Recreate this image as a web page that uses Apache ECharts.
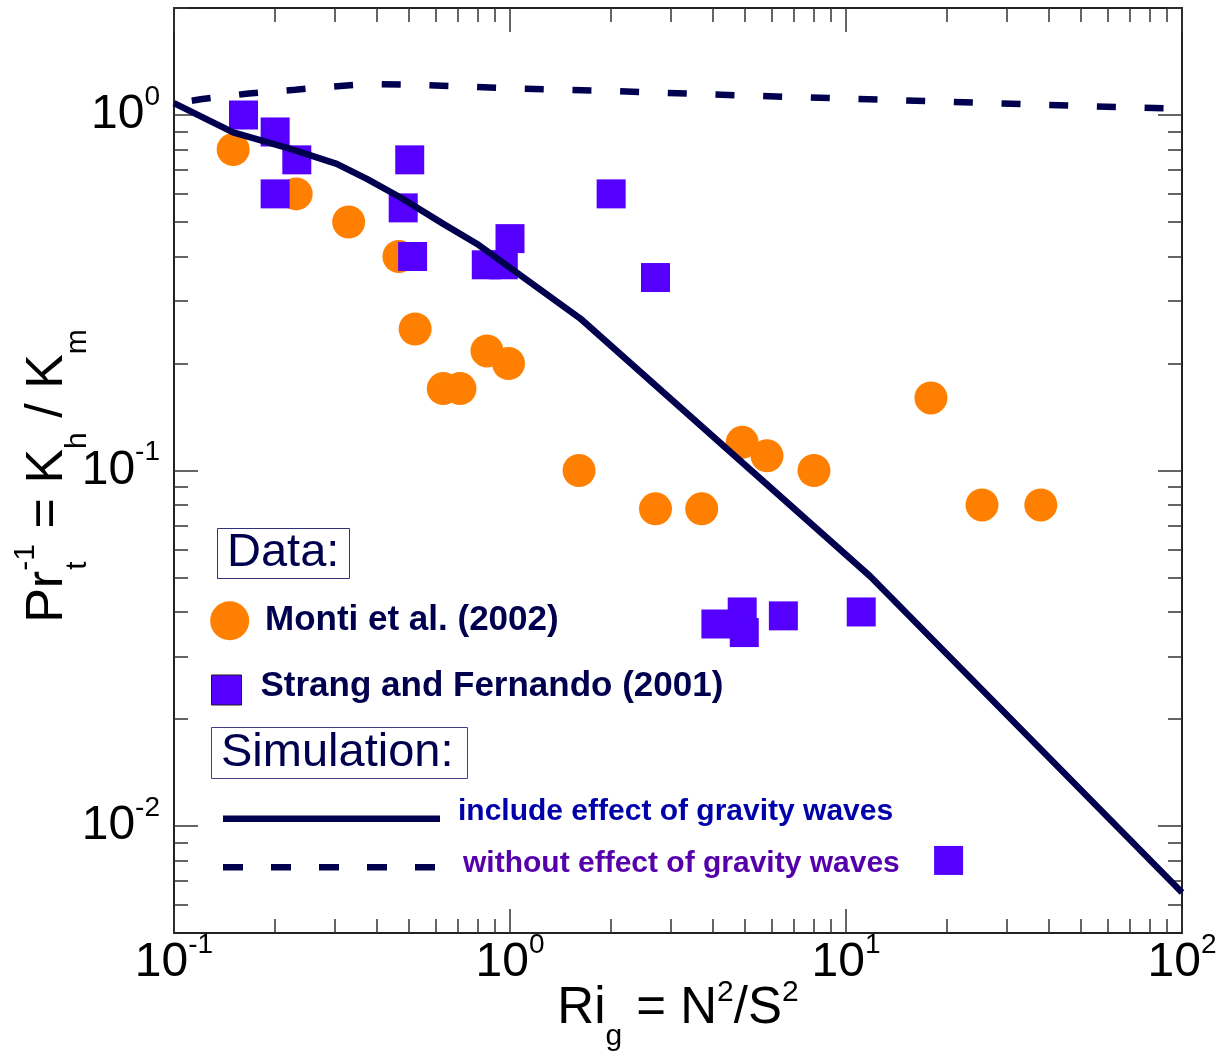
<!DOCTYPE html>
<html>
<head>
<meta charset="utf-8">
<script src="https://cdn.jsdelivr.net/npm/echarts@6/dist/echarts.min.js"></script>
<style>html,body{margin:0;padding:0;background:#fff}#c{width:1222px;height:1058px}</style>
</head>
<body>
<div id="c"></div>
<script>
// ---- data ----
const seriesNames = ['Monti et al. (2002)', 'Strang and Fernando (2001)', 'include effect of gravity waves', 'without effect of gravity waves'];
const montiData = [[0.15,0.80],[0.231,0.60],[0.331,0.50],[0.467,0.40],[0.522,0.25],[0.854,0.217],[0.99,0.20],[0.633,0.170],[0.710,0.170],[1.605,0.100],[2.71,0.078],[3.72,0.078],[4.91,0.120],[5.82,0.110],[8.03,0.100],[17.9,0.160],[25.4,0.080],[38.0,0.080]];
const strangData = [[0.161,1.0],[0.200,0.896],[0.232,0.748],[0.200,0.600],[0.503,0.748],[0.481,0.548],[0.513,0.40],[0.85,0.379],[0.955,0.379],[1.0,0.449],[2.0,0.60],[2.71,0.349],[4.10,0.037],[4.91,0.040],[4.98,0.035],[6.51,0.039],[11.1,0.040],[20.2,0.0080]];
const withWaves = [[0.1,1.08],[0.15,0.894],[0.221,0.804],[0.305,0.729],[0.375,0.661],[0.471,0.587],[0.633,0.494],[0.796,0.4345],[1.616,0.268],[11.8,0.0504],[100,0.0065]];
const withoutWaves = [[0.1,1.077],[0.12,1.107],[0.167,1.15],[0.23,1.178],[0.27,1.195],[0.375,1.222],[0.52,1.216],[1.0,1.189],[1.93,1.170],[3.73,1.145],[7.15,1.123],[13.7,1.102],[26.5,1.081],[50.7,1.06],[100,1.042]];
const xLabelValues = [0.1, 1, 10, 100];
const xMajorTicks = [0.1, 1, 10, 100];
const xMinorTicks = [0.2,0.3,0.4,0.5,0.6,0.7,0.8,0.9,2,3,4,5,6,7,8,9,20,30,40,50,60,70,80,90];
const yLabelValues = [0.01, 0.1, 1];
const yMajorTicks = [0.01, 0.1, 1];
const yMinorTicks = [0.006,0.007,0.008,0.009,0.02,0.03,0.04,0.05,0.06,0.07,0.08,0.09,0.2,0.3,0.4,0.5,0.6,0.7,0.8,0.9,2];
const xRange = [0.1, 100];
const yRange = [0.005, 2];

// ---- styling ----
const F = "'Liberation Sans', Arial, Helvetica, sans-serif";
const NAVY = '#00004f';
const ORANGE = '#ff8000';
const VIOLET = '#5500ff';

function powLabel(v) {
  const e = Math.round(Math.log10(v));
  return '{b|10}{s|' + e + '}';
}
const labelRich = {
  b: {fontFamily: F, fontSize: 48, lineHeight: 64, color: '#000', align: 'left'},
  s: {fontFamily: F, fontSize: 28, lineHeight: 28, color: '#000', verticalAlign: 'top', align: 'left'}
};

function axis(kind, pos, ticks, len, showLine, label, extra) {
  const r = kind === 'x' ? xRange : yRange;
  const a = {
    type: 'log', logBase: 10, min: r[0], max: r[1], position: pos,
    nameMoveOverlap: false,
    axisLine: {show: showLine, onZero: false, lineStyle: {color: '#222', width: 2}},
    axisTick: {show: true, inside: true, length: len, customValues: ticks, lineStyle: {color: '#333', width: 1.5}},
    axisLabel: label ? label : {show: false},
    splitLine: {show: false},
    minorTick: {show: false},
    minorSplitLine: {show: false}
  };
  return Object.assign(a, extra || {});
}

function legendText(color, size, lh, pad) {
  return {fontFamily: F, fontSize: size, fontWeight: 'bold', color: color,
    rich: {t: {fontFamily: F, fontSize: size, fontWeight: 'bold', color: color, lineHeight: lh, padding: pad, align: 'left'}}};
}

const xName = '{b|Ri}{sub|g}{b| = N}{sup|2}{b|/S}{sup|2}';
const yName = '{b|Pr}{sup|-1}{sub2|t}{b| = K}{sub|h}{b| / K}{sub|m}';

const option = {
  backgroundColor: '#fff',
  animation: false,
  grid: {left: 174, right: 40, top: 8, bottom: 125, containLabel: false, outerBoundsMode: 'none'},
  title: [
    {text: 'Data:', left: 217, top: 528, padding: [1, 10, 1, 10], borderWidth: 1, borderColor: '#303078',
     textStyle: {fontFamily: F, fontSize: 47, fontWeight: 'normal', color: NAVY, lineHeight: 49}},
    {text: 'Simulation:', left: 211, top: 727, padding: [1, 14, 1, 10], borderWidth: 1, borderColor: '#404088',
     textStyle: {fontFamily: F, fontSize: 47, fontWeight: 'normal', color: NAVY, lineHeight: 50}}
  ],
  legend: [
    {data: [{name: seriesNames[0], icon: 'circle', itemStyle: {color: ORANGE}}],
     left: 210.2, top: 601.3, padding: 0, itemWidth: 60.6, itemHeight: 39, selectedMode: false,
     textStyle: {fontFamily: F, fontSize: 35, fontWeight: 'bold', color: NAVY, lineHeight: 30}},
    {data: [{name: seriesNames[1], icon: 'path://M0,0L30,0L30,30L0,30Z', itemStyle: {color: VIOLET, borderColor: '#1a1a1a', borderWidth: 1}}],
     left: 211, top: 669, padding: 0, itemWidth: 58, itemHeight: 30, selectedMode: false,
     formatter: '{t|{name}}', textStyle: legendText(NAVY, 35, 16, [0, 0, 7, 0])},
    {data: [{name: seriesNames[2], icon: 'path://M0,0L217,0L217,6.5L0,6.5Z', itemStyle: {color: NAVY, borderWidth: 0}}],
     left: 223, top: 796.7, padding: 0, itemWidth: 217, itemHeight: 20, selectedMode: false,
     formatter: '{t|{name}}', textStyle: legendText('#0000aa', 30, 4, [0, 0, 14, 13])},
    {data: [{name: seriesNames[3], icon: 'path://M0,0L20,0L20,6.5L0,6.5Z M48,0L68,0L68,6.5L48,6.5Z M96,0L116,0L116,6.5L96,6.5Z M144,0L164,0L164,6.5L144,6.5Z M192,0L212,0L212,6.5L192,6.5Z', itemStyle: {color: NAVY, borderWidth: 0}}],
     left: 223, top: 848.8, padding: 0, itemWidth: 212, itemHeight: 20, selectedMode: false,
     formatter: '{t|{name}}', textStyle: legendText('#5500aa', 30, 4, [0, 0, 7, 23])}
  ],
  xAxis: [
    axis('x', 'bottom', xMajorTicks, 24, true,
      {show: true, customValues: xLabelValues, margin: -2, formatter: powLabel, rich: labelRich},
      {name: xName, nameLocation: 'middle', nameGap: 41,
       nameTextStyle: {fontFamily: F, color: '#000', rich: {
         b: {fontFamily: F, fontSize: 51, lineHeight: 70, color: '#000', align: 'left'},
         sup: {fontFamily: F, fontSize: 30, lineHeight: 30, color: '#000', verticalAlign: 'top', padding: [4, 0, 0, 0], align: 'left'},
         sub: {fontFamily: F, fontSize: 30, lineHeight: 22, color: '#000', verticalAlign: 'top', padding: [48, 0, 0, 0], align: 'left'}
       }}}),
    axis('x', 'bottom', xMinorTicks, 14, false, null),
    axis('x', 'top', xMajorTicks, 24, true, null),
    axis('x', 'top', xMinorTicks, 14, false, null)
  ],
  yAxis: [
    axis('y', 'left', yMajorTicks, 24, true,
      {show: true, customValues: yLabelValues, margin: 14, formatter: powLabel, rich: labelRich},
      {name: yName, nameLocation: 'middle', nameGap: 88, nameRotate: 90,
       nameTextStyle: {fontFamily: F, color: '#000', padding: [0, 11, 0, 0], rich: {
         b: {fontFamily: F, fontSize: 52, lineHeight: 76, color: '#000', align: 'left'},
         sup: {fontFamily: F, fontSize: 30, lineHeight: 30, color: '#000', verticalAlign: 'top', padding: [1, 0, 0, 0], width: 1, align: 'left'},
         sub2: {fontFamily: F, fontSize: 30, lineHeight: 22, color: '#000', verticalAlign: 'top', padding: [53, 0, 0, 0], width: 27, align: 'left'},
         sub: {fontFamily: F, fontSize: 30, lineHeight: 22, color: '#000', verticalAlign: 'top', padding: [53, 0, 0, 0], align: 'left'}
       }}}),
    axis('y', 'left', yMinorTicks, 14, false, null),
    axis('y', 'right', yMajorTicks, 24, true, null),
    axis('y', 'right', yMinorTicks, 14, false, null)
  ],
  series: [
    {name: seriesNames[0], type: 'scatter', xAxisIndex: 0, yAxisIndex: 0, data: montiData,
     symbol: 'circle', symbolSize: 33, itemStyle: {color: ORANGE, opacity: 1}},
    {name: seriesNames[1], type: 'scatter', xAxisIndex: 0, yAxisIndex: 0, data: strangData,
     symbol: 'rect', symbolSize: 29, itemStyle: {color: VIOLET, opacity: 1}},
    {name: seriesNames[2], type: 'line', xAxisIndex: 0, yAxisIndex: 0, data: withWaves,
     symbol: 'none', smooth: false, itemStyle: {color: NAVY},
     lineStyle: {color: NAVY, width: 6.5, type: 'solid'}},
    {name: seriesNames[3], type: 'line', xAxisIndex: 0, yAxisIndex: 0, data: withoutWaves,
     symbol: 'none', smooth: false, itemStyle: {color: NAVY},
     lineStyle: {color: NAVY, width: 6.5, type: [19, 28.7], dashOffset: 29.7}}
  ]
};

const chart = echarts.init(document.getElementById('c'), null, {renderer: 'canvas'});
chart.setOption(option);
</script>
</body>
</html>
